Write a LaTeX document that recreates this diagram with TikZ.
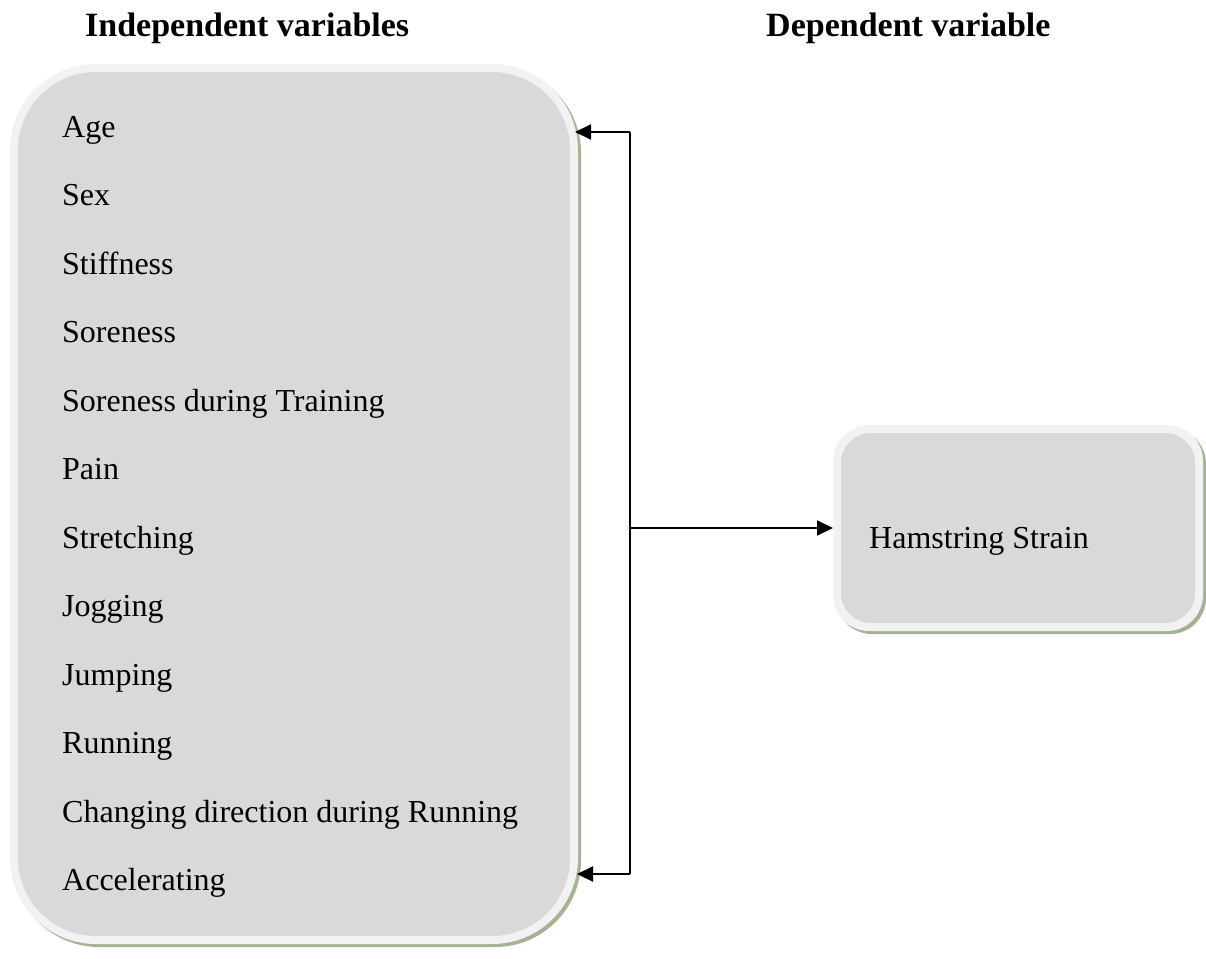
\documentclass[tikz,border=0pt]{standalone}
\usepackage{fontspec}
\setmainfont{Liberation Serif}
\usetikzlibrary{arrows.meta}
\definecolor{boxfill}{HTML}{D9D9D9}
\definecolor{boxedge}{HTML}{F2F2F2}
\definecolor{boxshadow}{HTML}{A3B393}
\tikzset{
  item/.style={anchor=base west, inner sep=0pt, font=\fontsize{32}{38}\selectfont},
  head/.style={anchor=base west, inner sep=0pt, font=\fontsize{34}{40}\selectfont\bfseries},
  conn/.style={line width=2pt, -{Triangle[length=16pt,width=15pt]}},
  plain/.style={line width=2pt}
}
\begin{document}
\begin{tikzpicture}[x=1pt,y=-1pt]
\useasboundingbox (0,0) rectangle (1206,958);
% left box
\fill[boxshadow, rounded corners=86pt] (13,67) rectangle (581,947);
\fill[boxedge, rounded corners=86pt] (10,64) rectangle (578,944);
\fill[boxfill, rounded corners=78pt] (18,72) rectangle (570,936);
\coordinate (lbtop) at (575,132);
\coordinate (lbbot) at (577,874);
% right box
\fill[boxshadow, rounded corners=36pt] (836,428) rectangle (1206,634);
\fill[boxedge, rounded corners=36pt] (833,425) rectangle (1203,631);
\fill[boxfill, rounded corners=30pt] (841,433) rectangle (1195,623);
\coordinate (rbin) at (833,528);
% headers
\node[head] (h1) at (85,37) {Independent variables};
\node[head] (h2) at (766,37) {Dependent variable};
% items
\node[item] (i1) at (62,137) {Age};
\node[item] (i2) at (62,205.5) {Sex};
\node[item] (i3) at (62,274) {Stiffness};
\node[item] (i4) at (62,342.5) {Soreness};
\node[item] (i5) at (62,411) {Soreness during Training};
\node[item] (i6) at (62,479.5) {Pain};
\node[item] (i7) at (62,548) {Stretching};
\node[item] (i8) at (62,616.5) {Jogging};
\node[item] (i9) at (62,685) {Jumping};
\node[item] (i10) at (62,753.5) {Running};
\node[item] (i11) at (62,822) {Changing direction during Running};
\node[item] (i12) at (62,890.5) {Accelerating};
\node[item] (hs) at (869,548) {Hamstring Strain};
% connectors
\coordinate (bt) at (630,132);
\coordinate (bb) at (630,874);
\coordinate (bm) at (630,528);
\draw[plain] (bt) -- (bb);
\draw[conn] (bt) -- (lbtop);
\draw[conn] (bb) -- (lbbot);
\draw[conn] (bm) -- (rbin);
\end{tikzpicture}
\end{document}
